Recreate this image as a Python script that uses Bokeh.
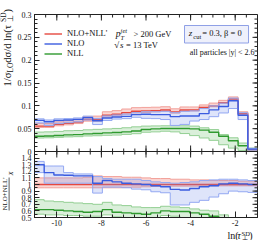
import numpy as np
from bokeh.plotting import figure
from bokeh.layouts import column, row
from bokeh.models import (Range1d, FixedTicker, Label, BoxAnnotation, Legend,
                          LegendItem, Span)
from bokeh.core.properties import value
from bokeh.embed import file_html
from bokeh.resources import INLINE

FONT = "Liberation Serif"

# ---------------- data ----------------
bin_edges = np.linspace(-11.0, -1.0, 24)

nlonll = [0.0556, 0.0556, 0.0593, 0.0615, 0.0644, 0.0700, 0.0704, 0.0793, 0.0815, 0.0852, 0.0881, 0.0889,
          0.0896, 0.0910, 0.0867, 0.0910, 0.0910, 0.0963, 0.1000, 0.1070, 0.1148, 0.0830, 0.0040]
nlonll_up = [0.0612, 0.0612, 0.0650, 0.0675, 0.0705, 0.0765, 0.0775, 0.0870, 0.0895, 0.0930, 0.0960, 0.0965,
             0.0970, 0.0980, 0.0935, 0.0975, 0.0975, 0.1020, 0.1060, 0.1120, 0.1195, 0.0870, 0.0050]
nlonll_dn = [0.0528, 0.0528, 0.0563, 0.0584, 0.0612, 0.0665, 0.0669, 0.0753, 0.0780, 0.0818, 0.0846, 0.0855,
             0.0870, 0.0883, 0.0841, 0.0883, 0.0887, 0.0944, 0.0980, 0.1049, 0.1125, 0.0813, 0.0030]

nlo = [0.0681, 0.0652, 0.0681, 0.0689, 0.0704, 0.0741, 0.0674, 0.0733, 0.0756, 0.0770, 0.0807, 0.0815,
       0.0807, 0.0807, 0.0763, 0.0778, 0.0778, 0.0830, 0.0911, 0.0985, 0.1110, 0.0793, 0.0052]
nlo_up = [0.0715, 0.0690, 0.0715, 0.0720, 0.0735, 0.0775, 0.0725, 0.0780, 0.0800, 0.0820, 0.0850, 0.0870,
          0.0870, 0.0880, 0.0850, 0.0880, 0.0890, 0.0940, 0.1000, 0.1060, 0.1170, 0.0850, 0.0070]
nlo_dn = [0.0625, 0.0570, 0.0610, 0.0630, 0.0650, 0.0690, 0.0590, 0.0680, 0.0710, 0.0720, 0.0750, 0.0726,
          0.0720, 0.0700, 0.0571, 0.0593, 0.0667, 0.0700, 0.0763, 0.0844, 0.0941, 0.0700, 0.0030]

nll = [0.0335, 0.0340, 0.0350, 0.0363, 0.0370, 0.0385, 0.0393, 0.0407, 0.0415, 0.0430, 0.0450, 0.0481,
       0.0496, 0.0504, 0.0504, 0.0504, 0.0496, 0.0467, 0.0422, 0.0333, 0.0237, 0.0126, 0.0037]
nll_up = [0.0425, 0.0430, 0.0440, 0.0455, 0.0460, 0.0475, 0.0485, 0.0495, 0.0505, 0.0520, 0.0540, 0.0556,
          0.0560, 0.0563, 0.0563, 0.0563, 0.0556, 0.0519, 0.0480, 0.0370, 0.0300, 0.0185, 0.0074]
nll_dn = [0.0295, 0.0300, 0.0310, 0.0320, 0.0325, 0.0340, 0.0345, 0.0355, 0.0360, 0.0375, 0.0390, 0.0422,
          0.0430, 0.0444, 0.0430, 0.0393, 0.0348, 0.0296, 0.0244, 0.0148, 0.0074, 0.0020, 0.0010]

# ratio panel (X / NLO+NLL')
r_nlonll_up = [1.10, 1.10, 1.10, 1.10, 1.10, 1.11, 1.13, 1.12, 1.12, 1.11, 1.11, 1.10,
               1.09, 1.09, 1.08, 1.08, 1.07, 1.07, 1.06, 1.06, 1.06, 1.05, 1.05]
r_nlonll_dn = [0.95, 0.95, 0.95, 0.95, 0.95, 0.95, 0.95, 0.95, 0.95, 0.955, 0.96, 0.965,
               0.97, 0.97, 0.975, 0.975, 0.975, 0.98, 0.98, 0.98, 0.98, 0.98, 0.98]
r_nlo = [1.30, 1.18, 1.145, 1.14, 1.13, 1.13, 1.02, 1.06, 1.04, 1.02, 1.01, 1.00,
         0.98, 0.967, 0.926, 0.916, 0.94, 0.967, 0.98, 1.01, 1.02, 1.01, 1.00]
r_nlo_up = [1.35, 1.28, 1.28, 1.18, 1.16, 1.16, 1.12, 1.09, 1.08, 1.08, 1.08, 1.06,
            1.04, 1.03, 1.02, 1.03, 1.04, 1.06, 1.07, 1.08, 1.08, 1.07, 1.06]
r_nlo_dn = [1.18, 1.02, 1.02, 1.02, 1.02, 1.02, 0.87, 0.96, 0.96, 0.95, 0.93, 0.92,
            0.89, 0.875, 0.69, 0.69, 0.73, 0.76, 0.81, 0.86, 0.90, 0.89, 0.88]
r_nll = [0.62, 0.62, 0.61, 0.60, 0.59, 0.58, 0.59, 0.62, 0.58, 0.57, 0.56, 0.55,
         0.57, 0.60, 0.59, 0.59, 0.57, 0.55, 0.52, 0.42, 0.30, 0.20, 0.10]
r_nll_up = [0.77, 0.75, 0.74, 0.73, 0.72, 0.71, 0.70, 0.73, 0.69, 0.68, 0.66, 0.65,
            0.65, 0.67, 0.66, 0.65, 0.63, 0.61, 0.60, 0.54, 0.45, 0.30, 0.20]
r_nll_dn = [0.55, 0.54, 0.54, 0.53, 0.53, 0.52, 0.52, 0.54, 0.51, 0.50, 0.49, 0.48,
            0.50, 0.53, 0.52, 0.50, 0.48, 0.45, 0.42, 0.30, 0.20, 0.10, 0.05]

x_ticks = [-10, -8, -6, -4, -2]
x_tick_labels = ["-10", "-8", "-6", "-4", "-2"]
x_minor = list(np.arange(-11, -0.99, 0.5))
y1_ticks = [0, 0.05, 0.1, 0.15, 0.2, 0.25, 0.3]
y1_tick_labels = ["0", "0.05", "0.1", "0.15", "0.2", "0.25", "0.3"]
y1_minor = list(np.arange(0, 0.3001, 0.01))
y2_ticks = [0.5, 0.6, 0.7, 0.8, 0.9, 1.0, 1.1, 1.2, 1.3, 1.4]
y2_tick_labels = ["0.5", "0.6", "0.7", "0.8", "0.9", "1", "1.1", "1.2", "1.3", "1.4"]
y2_minor = list(np.arange(0.5, 1.4501, 0.05))
labels = ["NLO+NLL'", "NLO", "NLL"]

# ---------------- styles / geometry (page 266 x 240) ----------------
RED, RED_E, RED_F = "#e5483f", "#f2a099", "#f08a82"
BLU, BLU_E, BLU_F = "#3b5ce0", "#93a8f2", "#7d95ea"
GRN, GRN_E, GRN_F = "#2f9a2f", "#93cf93", "#6cbf6c"
AX = "#222222"
TXT = "#111111"

TOT = 240
LW = 14            # left title strip
MW = 252           # main column
LB, RB = 19, 9     # frame borders (left / right)
FW = MW - LB - RB  # frame width 224
TOP = 14           # frame top
H1, H2 = 137, 66   # upper / ratio panel heights (one frame, split at H2)
FH = H1 + H2       # 203
BB = 12            # bottom border (tick labels)
XH = TOT - (TOP + FH + BB)   # x title strip (11)

X0, X1 = -11.0, -1.0
Y1R = (0.0, 0.3)
Y2R = (0.5, 1.5)


def px_top(v):     # value of the upper panel -> pixels above frame bottom
    return H2 + (v - Y1R[0]) * H1 / (Y1R[1] - Y1R[0])


def px_ratio(r):   # ratio value -> pixels above frame bottom
    return (r - Y2R[0]) * H2 / (Y2R[1] - Y2R[0])


def st(v):
    return list(v) + [v[-1]]


def draw(p, c, up, dn, col, edge, fill, fa, rng):
    p.varea_step(x=bin_edges, y1=st(dn), y2=st(up), step_mode="after",
                 fill_color=fill, fill_alpha=fa, y_range_name=rng)
    p.step(bin_edges, st(up), mode="after", line_color=edge, line_width=1, y_range_name=rng)
    p.step(bin_edges, st(dn), mode="after", line_color=edge, line_width=1, y_range_name=rng)
    return p.step(bin_edges, st(c), mode="after", line_color=col, line_width=1.4,
                  y_range_name=rng)


# ---------------- main figure: both panels in one frame ----------------
pm = figure(width=MW, height=TOP + FH + BB, x_range=Range1d(X0, X1), y_range=Range1d(0, FH),
            output_backend="svg", toolbar_location=None,
            min_border_left=LB, min_border_right=RB, min_border_top=TOP, min_border_bottom=BB)
top_lo = Y1R[0] - H2 * (Y1R[1] - Y1R[0]) / H1
pm.extra_y_ranges = {
    "top": Range1d(top_lo, Y1R[1]),
    "ratio": Range1d(Y2R[0], Y2R[0] + FH * (Y2R[1] - Y2R[0]) / H2),
}
pm.xgrid.visible = False
pm.ygrid.visible = False
pm.outline_line_color = AX
pm.background_fill_color = "white"
pm.border_fill_color = "white"

# left axis: ticks of both panels, labelled with their own values
y_major = [round(px_top(v), 4) for v in y1_ticks] + [round(px_ratio(r), 4) for r in y2_ticks]
y_labels = y1_tick_labels + y2_tick_labels
y_min = [round(px_top(v), 4) for v in y1_minor] + [round(px_ratio(r), 4) for r in y2_minor]
ya = pm.yaxis[0]
ya.ticker = FixedTicker(ticks=y_major, minor_ticks=y_min)
ya.major_label_overrides = {t: s for t, s in zip(y_major, y_labels)}
xa = pm.xaxis[0]
xa.ticker = FixedTicker(ticks=x_ticks, minor_ticks=x_minor)
xa.major_label_overrides = {t: s for t, s in zip(x_ticks, x_tick_labels)}
for ax, mj in ((ya, 5), (xa, 6)):
    ax.major_tick_in = mj
    ax.major_tick_out = 0
    ax.minor_tick_in = 3
    ax.minor_tick_out = 0
    ax.axis_line_color = AX
    ax.major_tick_line_color = AX
    ax.minor_tick_line_color = AX
    ax.major_label_text_font = FONT
    ax.major_label_text_font_size = "8px"
    ax.major_label_text_color = TXT
ya.major_label_standoff = 3
xa.major_label_standoff = 2

# panel split
pm.add_layout(Span(location=H2, dimension="width", line_color=AX, line_width=1))

# series
g_line = draw(pm, nll, nll_up, nll_dn, GRN, GRN_E, GRN_F, 0.25, "top")
r_line = draw(pm, nlonll, nlonll_up, nlonll_dn, RED, RED_E, RED_F, 0.35, "top")
b_line = draw(pm, nlo, nlo_up, nlo_dn, BLU, BLU_E, BLU_F, 0.25, "top")
r_nlonll = [v / v for v in nlonll]
draw(pm, r_nll, r_nll_up, r_nll_dn, GRN, GRN_E, GRN_F, 0.25, "ratio")
draw(pm, r_nlonll, r_nlonll_up, r_nlonll_dn, RED, RED_E, RED_F, 0.35, "ratio")
draw(pm, r_nlo, r_nlo_up, r_nlo_dn, BLU, BLU_E, BLU_F, 0.25, "ratio")

# mirrored inward ticks: right edge, top edge, both sides of the split
dx = (X1 - X0) / FW
for vals, ln in ((y_major, 5), (y_min, 3)):
    pm.segment(x0=[X1] * len(vals), y0=vals, x1=[X1 - ln * dx] * len(vals), y1=vals,
               line_color=AX, line_width=1)
for vals, ln in ((x_ticks, 6), (x_minor, 3)):
    n = len(vals)
    pm.segment(x0=vals, y0=[FH] * n, x1=vals, y1=[FH - ln] * n, line_color=AX, line_width=1)
    pm.segment(x0=vals, y0=[H2 - ln] * n, x1=vals, y1=[H2 + ln] * n, line_color=AX, line_width=1)

# legend (empty quads give the band swatches)
sw = []
for fill, edge, fa in ((RED_F, RED_E, 0.35), (BLU_F, BLU_E, 0.25), (GRN_F, GRN_E, 0.25)):
    sw.append(pm.quad(left=[], right=[], top=[], bottom=[], fill_color=fill,
                      fill_alpha=fa, line_color=edge, line_width=1))
items = [LegendItem(label=labels[0], renderers=[sw[0], r_line]),
         LegendItem(label=labels[1], renderers=[sw[1], b_line]),
         LegendItem(label=labels[2], renderers=[sw[2], g_line])]
leg = Legend(items=items, location=(10, 159), padding=0, margin=0, spacing=-1,
             glyph_width=18, glyph_height=7, label_height=7, label_standoff=5,
             label_text_font=FONT, label_text_font_size="8.5px", label_text_color=TXT,
             border_line_color=None, background_fill_alpha=0)
pm.add_layout(leg)


# ---------------- texts inside the upper panel (reference pixel positions) ----------------
def rx(px):
    return X0 + (px - (LW + LB)) * (X1 - X0) / FW


def ry(py):
    return TOP + FH - py


def lab(text, px, py, size="8.5px", style="normal", align="left"):
    pm.add_layout(Label(x=rx(px), y=ry(py), text=text, text_font=FONT, text_font_size=size,
                        text_font_style=style, text_align=align, text_baseline="middle",
                        text_color=TXT))


lab("p", 114.5, 33.5, "9.5px", "italic")
lab("jet", 119.5, 29.8, "6.5px", "italic")
lab("T", 119.5, 37.0, "6.5px", "italic")
lab("> 200 GeV", 132.5, 33.5)
lab("\u221a", 113, 44, "9px")
lab("s", 119, 44.5, "9px", "italic")
lab("= 13 TeV", 125, 44)

pm.add_layout(BoxAnnotation(left=rx(183.7), right=rx(248), top=ry(25), bottom=ry(42.5),
                            fill_color="#eef0fb", fill_alpha=1.0,
                            line_color="#8fa0e6", line_alpha=1.0, line_width=1))
lab("z", 188, 32.8, "9px", "italic")
lab("cut", 192.5, 36.0, "6.5px")
lab("= 0.3, \u03b2 = 0", 201.5, 32.8)
lab("all particles |y| < 2.6", 254, 52, "8px", align="right")


# ---------------- title strips (pixel coordinates) ----------------
def strip(w, h):
    f = figure(width=w, height=h, x_range=Range1d(0, w), y_range=Range1d(0, h),
               output_backend="svg", toolbar_location=None, min_border=0)
    f.axis.visible = False
    f.xgrid.visible = False
    f.ygrid.visible = False
    f.outline_line_color = None
    f.background_fill_color = "white"
    f.border_fill_color = "white"
    return f


def txt(f, x, ytop, s, size, style="normal", align="left", angle=0.0):
    f.text(x=[x], y=[f.height - ytop], text=[s], text_font=value(FONT),
           text_font_size=value(size), text_font_style=value(style),
           text_align=value(align), text_baseline=value("middle"),
           angle=angle, text_color=TXT)


A = np.pi / 2
left = strip(LW, TOT)
txt(left, 6.5, 86.0, "1/\u03c3", "10.5px", angle=A)
txt(left, 9.5, 72.0, "LO", "7.5px", angle=A)
txt(left, 6.5, 62.2, " d\u03c3/d ln(\u03c4", "10.5px", angle=A)
txt(left, 9.8, 21.5, "\u22a5", "7.5px", angle=A)
txt(left, 3.2, 21.5, "SD", "7.5px", angle=A)
txt(left, 6.5, 12.0, ")", "10.5px", angle=A)
txt(left, 4.3, 193.5, "NLO+NLL'", "7px", align="center", angle=A)
left.segment(x0=[8.6], y0=[TOT - 177], x1=[8.6], y1=[TOT - 210],
             line_color=TXT, line_width=0.7)
txt(left, 10.2, 173.0, "X", "6.5px", "italic", align="center", angle=A)

xs = strip(MW, XH)
txt(xs, 218.0, 4.8, "ln(", "10px")
txt(xs, 229.0, 4.8, "\u03c4", "10px", "italic")
txt(xs, 234.0, 6.8, "\u22a5", "6.5px")
txt(xs, 234.0, 3.3, "SD", "6.5px")
txt(xs, 242.8, 4.8, ")", "10px")

layout = row(left, column(pm, xs, spacing=0), spacing=0)
open("out.html", "w").write(file_html(layout, INLINE))
